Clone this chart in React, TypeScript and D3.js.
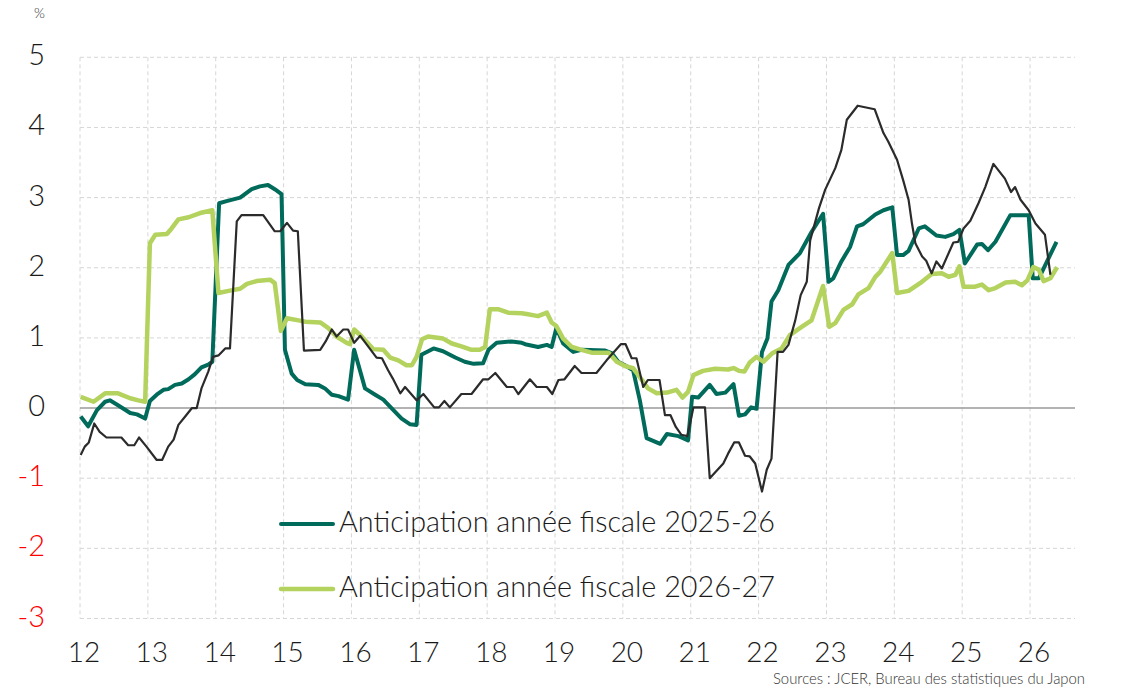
import React from "react";
import * as d3 from "d3";

// Forecasts and actual inflation, time as decimal year, value in %
const anticipation2526: [number, number][] = [
  [2012.01, -0.12], [2012.12, -0.26], [2012.25, -0.03], [2012.37, 0.09], [2012.44, 0.11],
  [2012.56, 0.04], [2012.74, -0.07], [2012.84, -0.09], [2012.96, -0.15], [2013.03, 0.10],
  [2013.13, 0.19], [2013.23, 0.26], [2013.3, 0.27], [2013.4, 0.33], [2013.5, 0.35],
  [2013.6, 0.41], [2013.69, 0.48], [2013.79, 0.58], [2013.89, 0.62], [2013.95, 0.66],
  [2014.05, 2.92], [2014.16, 2.95], [2014.36, 3.0], [2014.43, 3.05], [2014.53, 3.12],
  [2014.65, 3.16], [2014.77, 3.18], [2014.87, 3.12], [2014.97, 3.05], [2015.02, 0.83],
  [2015.12, 0.49], [2015.2, 0.4], [2015.32, 0.34], [2015.51, 0.33], [2015.61, 0.28],
  [2015.71, 0.19], [2015.81, 0.17], [2015.95, 0.12], [2016.04, 0.83], [2016.2, 0.28],
  [2016.35, 0.19], [2016.47, 0.12], [2016.59, 0.0], [2016.74, -0.15], [2016.86, -0.23],
  [2016.96, -0.24], [2017.03, 0.76], [2017.11, 0.8], [2017.21, 0.85], [2017.35, 0.81],
  [2017.53, 0.72], [2017.67, 0.66], [2017.8, 0.63], [2017.94, 0.64], [2018.02, 0.83],
  [2018.14, 0.93], [2018.36, 0.95], [2018.51, 0.93], [2018.56, 0.91], [2018.75, 0.87],
  [2018.88, 0.9], [2018.95, 0.87], [2019.02, 1.14], [2019.12, 0.92], [2019.27, 0.8],
  [2019.39, 0.83], [2019.74, 0.82], [2019.84, 0.78], [2019.93, 0.66], [2020.03, 0.61],
  [2020.15, 0.54], [2020.25, 0.11], [2020.35, -0.43], [2020.55, -0.51], [2020.65, -0.37],
  [2020.82, -0.4], [2020.96, -0.46], [2021.02, 0.16], [2021.11, 0.15], [2021.28, 0.33],
  [2021.38, 0.2], [2021.51, 0.22], [2021.63, 0.34], [2021.71, -0.11], [2021.8, -0.09],
  [2021.89, 0.01], [2021.97, -0.01], [2022.05, 0.8], [2022.13, 0.99], [2022.19, 1.52],
  [2022.29, 1.68], [2022.44, 2.04], [2022.61, 2.21], [2022.78, 2.51], [2022.95, 2.77],
  [2023.03, 1.8], [2023.1, 1.85], [2023.22, 2.09], [2023.35, 2.3], [2023.45, 2.59],
  [2023.54, 2.62], [2023.72, 2.76], [2023.84, 2.82], [2023.97, 2.86], [2024.04, 2.18],
  [2024.13, 2.18], [2024.21, 2.24], [2024.36, 2.56], [2024.45, 2.59], [2024.62, 2.46],
  [2024.75, 2.44], [2024.87, 2.48], [2024.96, 2.54], [2025.04, 2.06], [2025.22, 2.33],
  [2025.29, 2.34], [2025.38, 2.25], [2025.49, 2.37], [2025.71, 2.75], [2025.98, 2.75],
  [2026.04, 1.85], [2026.13, 1.85], [2026.39, 2.37],
];

const anticipation2627: [number, number][] = [
  [2012.01, 0.16], [2012.2, 0.09], [2012.37, 0.21], [2012.56, 0.21], [2012.74, 0.14],
  [2012.86, 0.11], [2012.96, 0.09], [2013.03, 2.35], [2013.11, 2.47], [2013.28, 2.48],
  [2013.35, 2.56], [2013.45, 2.69], [2013.6, 2.72], [2013.77, 2.78], [2013.95, 2.82],
  [2014.04, 1.64], [2014.19, 1.67], [2014.36, 1.7], [2014.46, 1.77], [2014.6, 1.81],
  [2014.8, 1.83], [2014.87, 1.78], [2014.96, 1.1], [2015.05, 1.28], [2015.22, 1.25],
  [2015.32, 1.23], [2015.54, 1.22], [2015.66, 1.14], [2015.78, 1.02], [2015.93, 0.93],
  [2015.98, 0.91], [2016.04, 1.12], [2016.15, 1.02], [2016.32, 0.84], [2016.47, 0.83],
  [2016.57, 0.72], [2016.69, 0.68], [2016.81, 0.61], [2016.89, 0.61], [2016.96, 0.73],
  [2017.04, 0.98], [2017.13, 1.02], [2017.35, 0.99], [2017.48, 0.92], [2017.62, 0.88],
  [2017.77, 0.83], [2017.89, 0.83], [2017.97, 0.87], [2018.04, 1.41], [2018.16, 1.41],
  [2018.31, 1.36], [2018.51, 1.35], [2018.58, 1.34], [2018.75, 1.31], [2018.88, 1.36],
  [2018.95, 1.22], [2019.02, 1.17], [2019.12, 0.99], [2019.25, 0.87], [2019.39, 0.83],
  [2019.54, 0.79], [2019.79, 0.79], [2019.91, 0.66], [2020.03, 0.6], [2020.15, 0.57],
  [2020.25, 0.44], [2020.37, 0.28], [2020.5, 0.21], [2020.65, 0.22], [2020.79, 0.26],
  [2020.88, 0.15], [2020.96, 0.23], [2021.04, 0.47], [2021.18, 0.53], [2021.36, 0.56],
  [2021.55, 0.55], [2021.63, 0.57], [2021.71, 0.53], [2021.79, 0.52], [2021.87, 0.65],
  [2021.97, 0.73], [2022.07, 0.66], [2022.2, 0.78], [2022.34, 0.85], [2022.46, 1.04],
  [2022.64, 1.16], [2022.78, 1.25], [2022.95, 1.74], [2023.04, 1.16], [2023.13, 1.21],
  [2023.25, 1.4], [2023.38, 1.48], [2023.47, 1.62], [2023.62, 1.71], [2023.72, 1.87],
  [2023.79, 1.94], [2023.97, 2.21], [2024.04, 1.64], [2024.21, 1.67], [2024.38, 1.78],
  [2024.55, 1.91], [2024.7, 1.92], [2024.8, 1.87], [2024.9, 1.9], [2024.96, 2.02],
  [2025.02, 1.73], [2025.19, 1.73], [2025.29, 1.76], [2025.39, 1.68], [2025.49, 1.71],
  [2025.64, 1.79], [2025.78, 1.8], [2025.88, 1.75], [2025.96, 1.82], [2026.05, 2.01],
  [2026.13, 1.97], [2026.2, 1.81], [2026.3, 1.85], [2026.4, 2.01],
];

const inflationActual: [number, number][] = [
  [2012.01, -0.67], [2012.07, -0.55], [2012.13, -0.49], [2012.21, -0.22], [2012.29, -0.34],
  [2012.39, -0.42], [2012.61, -0.42], [2012.71, -0.53], [2012.8, -0.53], [2012.87, -0.42],
  [2012.98, -0.55], [2013.13, -0.74], [2013.21, -0.74], [2013.3, -0.55], [2013.38, -0.45],
  [2013.45, -0.24], [2013.55, -0.12], [2013.65, 0.0], [2013.72, 0.0], [2013.79, 0.28],
  [2013.89, 0.52], [2013.96, 0.73], [2014.04, 0.75], [2014.14, 0.85], [2014.21, 0.85],
  [2014.31, 2.66], [2014.38, 2.75], [2014.7, 2.75], [2014.87, 2.52], [2014.95, 2.52],
  [2015.05, 2.64], [2015.14, 2.53], [2015.21, 2.52], [2015.3, 0.82], [2015.54, 0.83],
  [2015.62, 0.95], [2015.71, 1.12], [2015.78, 1.02], [2015.88, 1.12], [2015.95, 1.12],
  [2016.04, 0.93], [2016.13, 1.03], [2016.37, 0.72], [2016.45, 0.71], [2016.54, 0.54],
  [2016.61, 0.42], [2016.72, 0.21], [2016.79, 0.3], [2016.96, 0.11], [2017.06, 0.2],
  [2017.22, 0.01], [2017.29, 0.01], [2017.37, 0.1], [2017.45, 0.01], [2017.62, 0.2],
  [2017.77, 0.2], [2017.94, 0.41], [2018.02, 0.41], [2018.12, 0.5], [2018.29, 0.3],
  [2018.39, 0.3], [2018.46, 0.2], [2018.63, 0.41], [2018.73, 0.3], [2018.88, 0.3],
  [2018.96, 0.2], [2019.05, 0.4], [2019.14, 0.41], [2019.29, 0.6], [2019.39, 0.5],
  [2019.61, 0.5], [2019.76, 0.68], [2019.97, 0.91], [2020.04, 0.91], [2020.13, 0.71],
  [2020.2, 0.71], [2020.3, 0.3], [2020.37, 0.4], [2020.54, 0.4], [2020.62, -0.1],
  [2020.7, -0.1], [2020.78, -0.27], [2020.86, -0.38], [2020.95, -0.4], [2021.04, 0.01],
  [2021.21, 0.01], [2021.28, -1.0], [2021.48, -0.79], [2021.55, -0.65], [2021.64, -0.49],
  [2021.71, -0.49], [2021.8, -0.68], [2021.87, -0.69], [2021.95, -0.79], [2022.05, -1.19],
  [2022.12, -0.88], [2022.19, -0.72], [2022.28, 0.8], [2022.36, 0.8], [2022.44, 0.9],
  [2022.54, 1.25], [2022.62, 1.61], [2022.71, 1.8], [2022.76, 2.39], [2022.89, 2.85],
  [2022.98, 3.11], [2023.13, 3.42], [2023.22, 3.68], [2023.3, 4.11], [2023.46, 4.31],
  [2023.71, 4.26], [2023.84, 3.92], [2023.91, 3.8], [2024.04, 3.54], [2024.13, 3.25],
  [2024.21, 2.97], [2024.26, 2.63], [2024.31, 2.35], [2024.41, 2.16], [2024.47, 2.1],
  [2024.55, 1.92], [2024.62, 2.09], [2024.7, 1.99], [2024.87, 2.36], [2024.94, 2.37],
  [2025.02, 2.56], [2025.12, 2.67], [2025.24, 2.92], [2025.34, 3.15], [2025.46, 3.48],
  [2025.63, 3.27], [2025.72, 3.08], [2025.78, 3.15], [2025.86, 2.97], [2025.98, 2.82],
  [2026.08, 2.63], [2026.22, 2.47], [2026.3, 1.9],
];

const yearTicks = d3.range(2012, 2027);
const valueTicks = [5, 4, 3, 2, 1, 0, -1, -2, -3];
const legendLabels = [
  "Anticipation année fiscale 2025-26",
  "Anticipation année fiscale 2026-27",
];
const sourceNote = "Sources : JCER, Bureau des statistiques du Japon";

const DARK_GREEN = "#006a5b";
const LIGHT_GREEN = "#b4d25e";
const INK = "#2b2b2b";
const FONT = "Lato, 'Open Sans', sans-serif";

export default function App() {
  const width = 1129;
  const height = 693;
  const left = 80;
  const right = 1075;
  const top = 57.3;
  const bottom = 618.5;

  const x = d3.scaleLinear().domain([2012, 2012 + (right - left) / 67.86]).range([left, right]);
  const y = d3.scaleLinear().domain([-3, 5]).range([bottom, top]);

  const line = d3
    .line<[number, number]>()
    .x((d) => x(d[0]))
    .y((d) => y(d[1]))
    .curve(d3.curveLinear);

  return (
    <svg
      width={width}
      height={height}
      style={{ position: "absolute", left: 0, top: 0, background: "#fff" }}
      fontFamily={FONT}
      fontWeight={300}
    >
      {/* grid */}
      <g stroke="#d6d6d6" strokeWidth={1} strokeDasharray="4 3">
        {valueTicks
          .filter((v) => v !== 0)
          .map((v) => (
            <line key={"h" + v} x1={left} x2={right} y1={y(v)} y2={y(v)} />
          ))}
        {yearTicks.map((t) => (
          <line key={"v" + t} x1={x(t)} x2={x(t)} y1={top} y2={bottom} />
        ))}
      </g>
      <line x1={left} x2={right} y1={y(0)} y2={y(0)} stroke="#9a9a9a" strokeWidth={1.5} />

      {/* y labels */}
      <text x={45} y={18} fontSize={14} textAnchor="end" fill="#333">
        %
      </text>
      {valueTicks.map((v) => (
        <text
          key={"yl" + v}
          x={45}
          y={y(v) + 8}
          fontSize={29}
          textAnchor="end"
          fill={v < 0 ? "#ff0000" : "#1a1a1a"}
        >
          {v}
        </text>
      ))}

      {/* x labels */}
      {yearTicks.map((t) => (
        <text key={"xl" + t} x={x(t) + 4} y={662} fontSize={28} textAnchor="middle" fill="#1a1a1a">
          {String(t % 100)}
        </text>
      ))}

      {/* series */}
      <path d={line(anticipation2526) ?? ""} fill="none" stroke={DARK_GREEN} strokeWidth={4} strokeLinejoin="round" />
      <path d={line(anticipation2627) ?? ""} fill="none" stroke={LIGHT_GREEN} strokeWidth={4.5} strokeLinejoin="round" />
      <path d={line(inflationActual) ?? ""} fill="none" stroke={INK} strokeWidth={2.2} strokeLinejoin="round" />

      {/* legend */}
      <line x1={281} x2={333} y1={524} y2={524} stroke={DARK_GREEN} strokeWidth={4} strokeLinecap="round" />
      <text x={339} y={532} fontSize={29} fill="#1a1a1a" textLength={436} lengthAdjust="spacingAndGlyphs">
        {legendLabels[0]}
      </text>
      <line x1={281} x2={333} y1={589} y2={589} stroke={LIGHT_GREEN} strokeWidth={4.5} strokeLinecap="round" />
      <text x={339} y={597} fontSize={29} fill="#1a1a1a" textLength={436} lengthAdjust="spacingAndGlyphs">
        {legendLabels[1]}
      </text>

      {/* source */}
      <text x={1085} y={684} fontSize={16} textAnchor="end" fill="#333" textLength={312} lengthAdjust="spacingAndGlyphs">
        {sourceNote}
      </text>
    </svg>
  );
}
